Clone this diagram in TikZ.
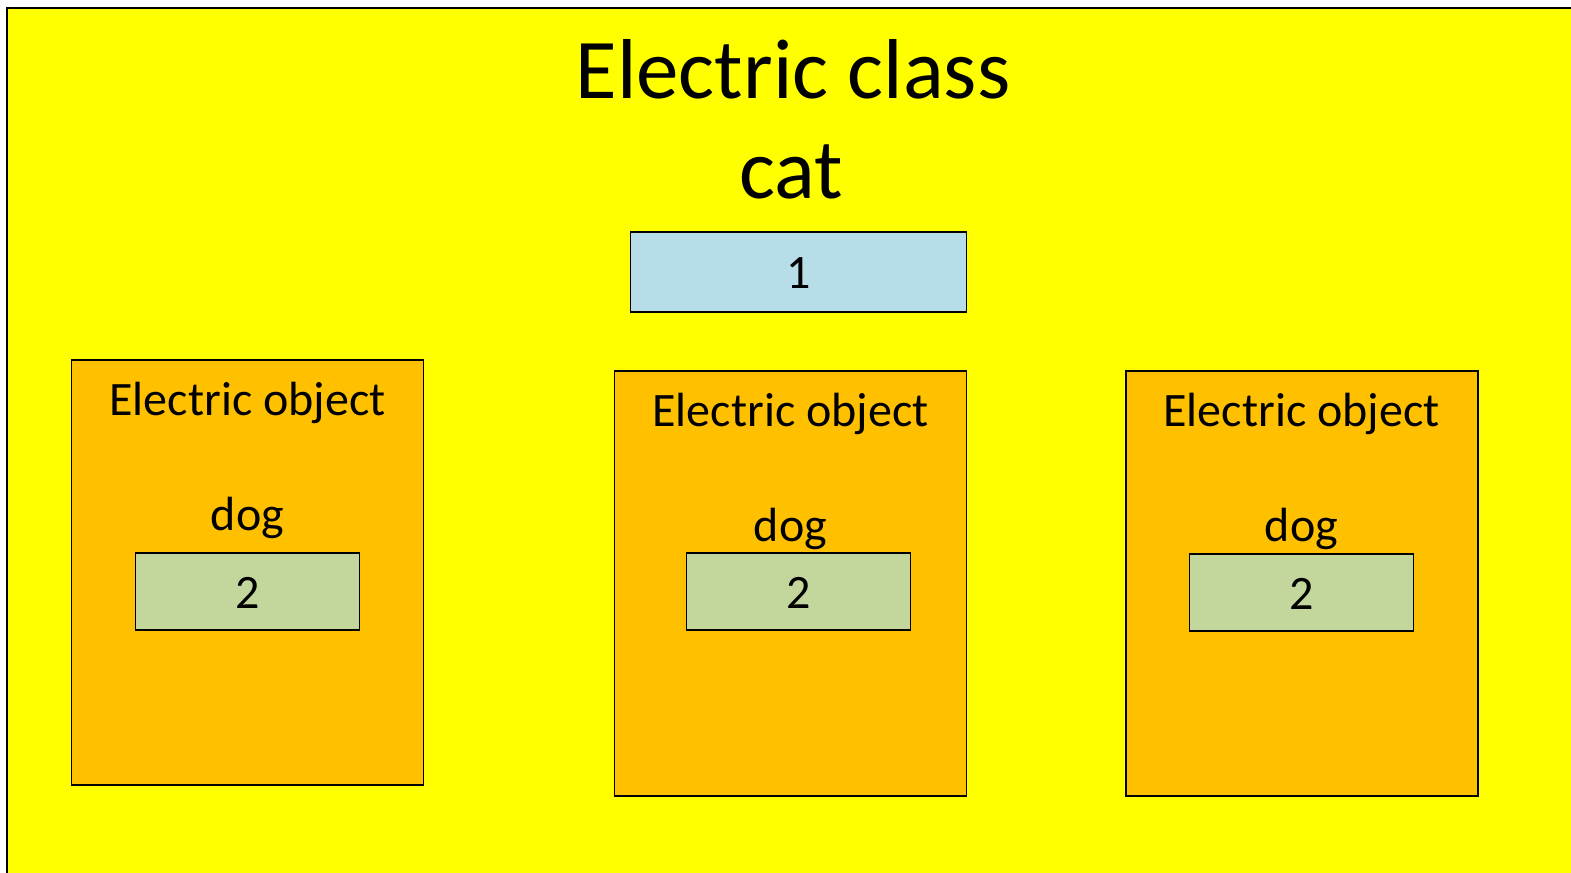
\documentclass[tikz,border=0pt]{standalone}
\usepackage{fontspec}
\setmainfont{Carlito}
\definecolor{bgyellow}{HTML}{FFFF00}
\definecolor{objorange}{HTML}{FFC000}
\definecolor{clsblue}{HTML}{B7DDE8}
\definecolor{valgreen}{HTML}{C3D69B}
\tikzset{
  objbox/.style={draw=black, line width=1.5bp, fill=objorange, minimum width=352bp, minimum height=425bp, inner sep=0pt, outer sep=0pt},
  valbox/.style={draw=black, line width=1.5bp, fill=valgreen, minimum width=224bp, minimum height=77bp, inner sep=0pt, outer sep=0pt},
  clsbox/.style={draw=black, line width=1.5bp, fill=clsblue, minimum width=336bp, minimum height=80bp, inner sep=0pt, outer sep=0pt},
  titletext/.style={anchor=base, inner sep=0pt, font=\fontsize{85bp}{100bp}\selectfont},
  labeltext/.style={anchor=base, inner sep=0pt, font=\fontsize{48bp}{56bp}\selectfont},
  numtext/.style={anchor=center, inner sep=0pt, font=\fontsize{48bp}{56bp}\selectfont}
}
\begin{document}
\begin{tikzpicture}[x=1bp, y=-1bp]
\useasboundingbox (0,0) rectangle (1571,872);
\clip (0,0) rectangle (1571,872);
\fill[white] (0,0) rectangle (1571,872);
\draw[line width=2.5bp, fill=bgyellow] (7,8) rectangle (1640,940);
% title
\node[titletext] (title1) at (793,98) {Electric class};
\node[titletext] (title2) at (791,198) {cat};
% class value box
\node[clsbox] (clsval) at (798.5,272) {};
\node[numtext] (clsnum) at (798.5,273) {1};
% object 1
\node[objbox] (obj1) at (247.5,572.5) {};
\node[labeltext] (obj1t) at (247.5,415) {Electric object};
\node[labeltext] (obj1d) at (247.5,530) {dog};
\node[valbox] (val1) at (247.5,591.5) {};
\node[numtext] (num1) at (247.5,593) {2};
% object 2
\node[objbox] (obj2) at (790.5,583.5) {};
\node[labeltext] (obj2t) at (790.5,426) {Electric object};
\node[labeltext] (obj2d) at (790.5,541) {dog};
\node[valbox] (val2) at (798.5,591.5) {};
\node[numtext] (num2) at (798.5,593) {2};
% object 3
\node[objbox] (obj3) at (1302,583.5) {};
\node[labeltext] (obj3t) at (1301.5,426) {Electric object};
\node[labeltext] (obj3d) at (1301.5,541) {dog};
\node[valbox] (val3) at (1301.5,592.5) {};
\node[numtext] (num3) at (1301.5,594) {2};
\end{tikzpicture}
\end{document}
